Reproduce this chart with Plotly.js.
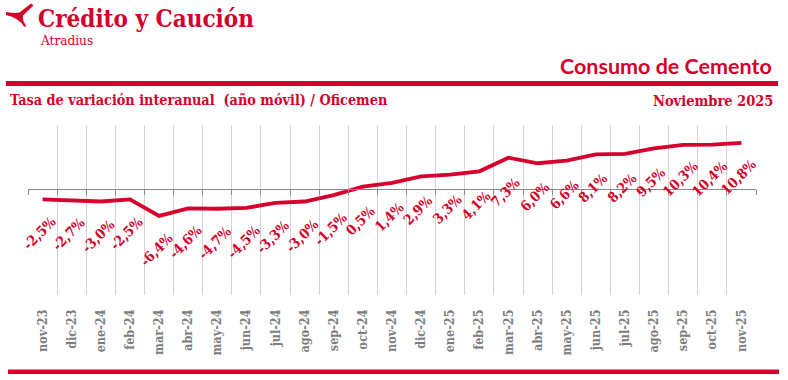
<!DOCTYPE html>
<html>
<head>
<meta charset="utf-8">
<script src="https://cdn.plot.ly/plotly-3.0.1.min.js"></script>
<style>html,body{margin:0;padding:0;background:#fff;}#chart{width:788px;height:380px;}</style>
</head>
<body>
<div id="chart"></div>
<script>
// ---- data ----
const months = ["nov-23","dic-23","ene-24","feb-24","mar-24","abr-24","may-24","jun-24","jul-24","ago-24","sep-24","oct-24","nov-24","dic-24","ene-25","feb-25","mar-25","abr-25","may-25","jun-25","jul-25","ago-25","sep-25","oct-25","nov-25"];
const values = [-2.5,-2.7,-3.0,-2.5,-6.4,-4.6,-4.7,-4.5,-3.3,-3.0,-1.5,0.5,1.4,2.9,3.3,4.1,7.3,6.0,6.6,8.1,8.2,9.5,10.3,10.4,10.8];
const titleMain = "Consumo de Cemento";
const subtitle = "Tasa de variación interanual \u00A0(año móvil) / Oficemen";
const dateText = "Noviembre 2025";
const brand = "Crédito y Caución";
const brandSub = "Atradius";

// ---- style ----
const RED = "#d5002b";
const SLAB = "'DejaVu Serif Condensed', 'DejaVu Serif', serif";
const SANS = "Lato, 'Open Sans', sans-serif";
const yRange = [-25, 15];
const M = {l:28, r:32, t:125, b:85};
const W = 788 - M.l - M.r, H = 380 - M.t - M.b;
const fx = px => (px - M.l) / W;
const fy = py => (380 - M.b - py) / H;
const fmt = v => v.toFixed(1).replace('.', ',') + '%';

const traces = [
  {x: months, y: values, type: 'scatter', mode: 'lines',
   line: {color: RED, width: 3.8}, hoverinfo: 'skip', showlegend: false},
  {x: months, y: values, xaxis: 'x2', yaxis: 'y', type: 'scatter', mode: 'lines',
   line: {color: 'rgba(0,0,0,0)', width: 0}, hoverinfo: 'skip', showlegend: false}
];

const annotations = values.map((v, i) => ({
  x: months[i], y: v, xref: 'x', yref: 'y', text: fmt(v), showarrow: false,
  textangle: -45, yshift: -34, xshift: -3,
  font: {family: SLAB, size: 14, color: RED, weight: 'bold'}
}));

function headerText(text, px, py, xanchor, font) {
  return {xref: 'paper', yref: 'paper', x: fx(px), y: fy(py), text: text,
    showarrow: false, xanchor: xanchor, yanchor: 'middle', font: font};
}
annotations.push(headerText(brand, 36, 18, 'left', {family: SLAB, size: 24, color: RED, weight: 'bold'}));
annotations.push(headerText(brandSub, 38, 40, 'left', {family: SLAB, size: 13.5, color: RED}));
annotations.push(headerText(titleMain, 774, 66, 'right', {family: SANS, size: 21.5, color: RED, weight: 'bold'}));
annotations.push(headerText(subtitle, 8, 100, 'left', {family: SLAB, size: 14.3, color: RED, weight: 'bold'}));
annotations.push(headerText(dateText, 775, 100, 'right', {family: SLAB, size: 14.5, color: RED, weight: 'bold'}));

// logo path (screen px) -> relative pixel coords anchored at paper (0,1)
const logoPts = [
  ['M', 6, 12], ['Q', 16, 13.5, 19.5, 12.5], ['L', 31, 3.5], ['L', 33.5, 5.5],
  ['L', 23, 15.5], ['Q', 22, 20, 26.5, 26.5], ['L', 24, 26.5], ['Q', 19, 18, 6, 15], ['Z']
];
const logoPath = logoPts.map(p => {
  if (p[0] === 'Z') return 'Z';
  const out = [];
  for (let k = 1; k < p.length; k += 2) out.push((p[k] - M.l).toFixed(1) + ',' + (M.t - p[k+1]).toFixed(1));
  return p[0] + out.join(' ');
}).join(' ');

const shapes = [
  {type: 'rect', xref: 'paper', yref: 'paper', x0: fx(6), x1: fx(778), y0: fy(81), y1: fy(86),
   fillcolor: RED, line: {width: 0}},
  {type: 'rect', xref: 'paper', yref: 'paper', x0: fx(8), x1: fx(779), y0: fy(369.5), y1: fy(374),
   fillcolor: RED, line: {width: 0}},
  {type: 'path', xref: 'paper', yref: 'paper', xsizemode: 'pixel', ysizemode: 'pixel',
   xanchor: 0, yanchor: 1, path: logoPath, fillcolor: RED, line: {width: 0}}
];

const layout = {
  width: 788, height: 380, margin: M, paper_bgcolor: '#fff', plot_bgcolor: '#fff',
  showlegend: false,
  xaxis: {type: 'category', categoryarray: months, range: [-0.5, months.length - 0.5],
    tickson: 'boundaries', showgrid: true, gridcolor: '#d3d3d3', gridwidth: 1,
    ticks: '', ticklabelstandoff: 11, showline: false, zeroline: false, tickangle: -90,
    tickfont: {family: SLAB, size: 12.5, color: '#7d7d7d', weight: 'bold'}, fixedrange: true},
  xaxis2: {type: 'category', categoryarray: months, range: [-0.5, months.length - 0.5],
    overlaying: 'x', anchor: 'free', position: (0 - yRange[0]) / (yRange[1] - yRange[0]),
    side: 'bottom', tickson: 'boundaries', ticks: 'outside', ticklen: 5, tickwidth: 1,
    tickcolor: '#888', showline: true, linecolor: '#888', linewidth: 1,
    showgrid: false, showticklabels: false, zeroline: false, fixedrange: true},
  yaxis: {range: yRange, showgrid: false, zeroline: false, showticklabels: false,
    showline: false, ticks: '', fixedrange: true},
  annotations: annotations, shapes: shapes
};

Plotly.newPlot('chart', traces, layout, {displayModeBar: false, staticPlot: true});
</script>
</body>
</html>
